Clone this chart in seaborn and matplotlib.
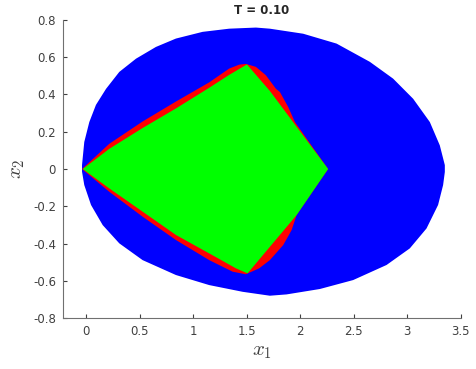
import matplotlib
matplotlib.use("Agg")
import matplotlib.pyplot as plt
import seaborn as sns

# boundary of the blue (outer) set
blue_x = [-0.037, -0.016, 0.031, 0.093, 0.187, 0.311, 0.467, 0.653, 0.840, 1.089,
          1.337, 1.587, 1.717, 2.028, 2.340, 2.651, 2.868, 3.055, 3.211, 3.304,
          3.351, 3.351, 3.335, 3.288, 3.180, 3.024, 2.807, 2.495, 2.184, 1.873,
          1.717, 1.463, 1.151, 0.840, 0.529, 0.311, 0.156, 0.047, -0.016, -0.037]
blue_y = [0.021, 0.145, 0.252, 0.344, 0.430, 0.521, 0.592, 0.655, 0.700, 0.736,
          0.753, 0.759, 0.753, 0.726, 0.673, 0.575, 0.485, 0.377, 0.252, 0.127,
          0.021, -0.016, -0.086, -0.193, -0.319, -0.426, -0.515, -0.596, -0.644, -0.673,
          -0.680, -0.659, -0.623, -0.569, -0.489, -0.399, -0.301, -0.193, -0.086, -0.014]

# red set
red_x = [-0.037, 0.217, 0.529, 0.840, 1.151, 1.337, 1.431, 1.493, 1.587, 1.680,
         1.773, 1.811, 1.888, 1.951, 2.261, 1.967, 1.920, 1.842, 1.717, 1.617,
         1.493, 1.369, 1.151, 0.840, 0.529, 0.217]
red_y = [0.0, 0.135, 0.255, 0.362, 0.465, 0.539, 0.560, 0.564, 0.548, 0.503,
         0.431, 0.413, 0.333, 0.252, 0.0, -0.247, -0.328, -0.408, -0.489, -0.533,
         -0.565, -0.551, -0.489, -0.381, -0.256, -0.122]

# green set
green_x = [-0.030, 0.217, 0.529, 0.840, 1.151, 1.337, 1.503, 1.717, 2.261, 1.967,
           1.509, 1.400, 1.151, 0.840, 0.529, 0.217]
green_y = [0.0, 0.108, 0.220, 0.325, 0.436, 0.505, 0.561, 0.419, 0.0, -0.247,
           -0.560, -0.533, -0.453, -0.354, -0.229, -0.104]

x_ticks = [0, 0.5, 1, 1.5, 2, 2.5, 3, 3.5]
y_ticks = [-0.8, -0.6, -0.4, -0.2, 0, 0.2, 0.4, 0.6, 0.8]

sns.set_style("ticks", {"xtick.direction": "in", "ytick.direction": "in"})
plt.rcParams["font.family"] = ["DejaVu Sans"]
plt.rcParams["mathtext.fontset"] = "cm"
plt.rcParams["axes.unicode_minus"] = False

fig = plt.figure(figsize=(4.77, 3.69), dpi=100)
ax = fig.add_axes([0.132, 0.138, 0.834, 0.808])

ax.fill(blue_x, blue_y, color="#0000ff", lw=0)
ax.fill(red_x, red_y, color="#ff0000", lw=0)
ax.fill(green_x, green_y, color="#00ff00", lw=0)

ax.set_xlim(-0.215, 3.5)
ax.set_ylim(-0.8, 0.8)
ax.set_xticks(x_ticks)
ax.set_xticklabels(["0", "0.5", "1", "1.5", "2", "2.5", "3", "3.5"])
ax.set_yticks(y_ticks)
ax.set_yticklabels(["-0.8", "-0.6", "-0.4", "-0.2", "0", "0.2", "0.4", "0.6", "0.8"])
ax.tick_params(labelsize=8.5, colors="#404040", length=3, width=0.8, pad=5)
for s in ["left", "bottom"]:
    ax.spines[s].set_color("#707070")
    ax.spines[s].set_linewidth(0.8)
sns.despine(ax=ax)

ax.set_xlabel("$x_1$", fontsize=15, color="#404040", labelpad=2)
ax.set_ylabel("$x_2$", fontsize=15, color="#404040", labelpad=4)
ax.set_title("T = 0.10", fontsize=8.5, fontweight="bold", pad=4)

fig.savefig("out.png", dpi=100)
